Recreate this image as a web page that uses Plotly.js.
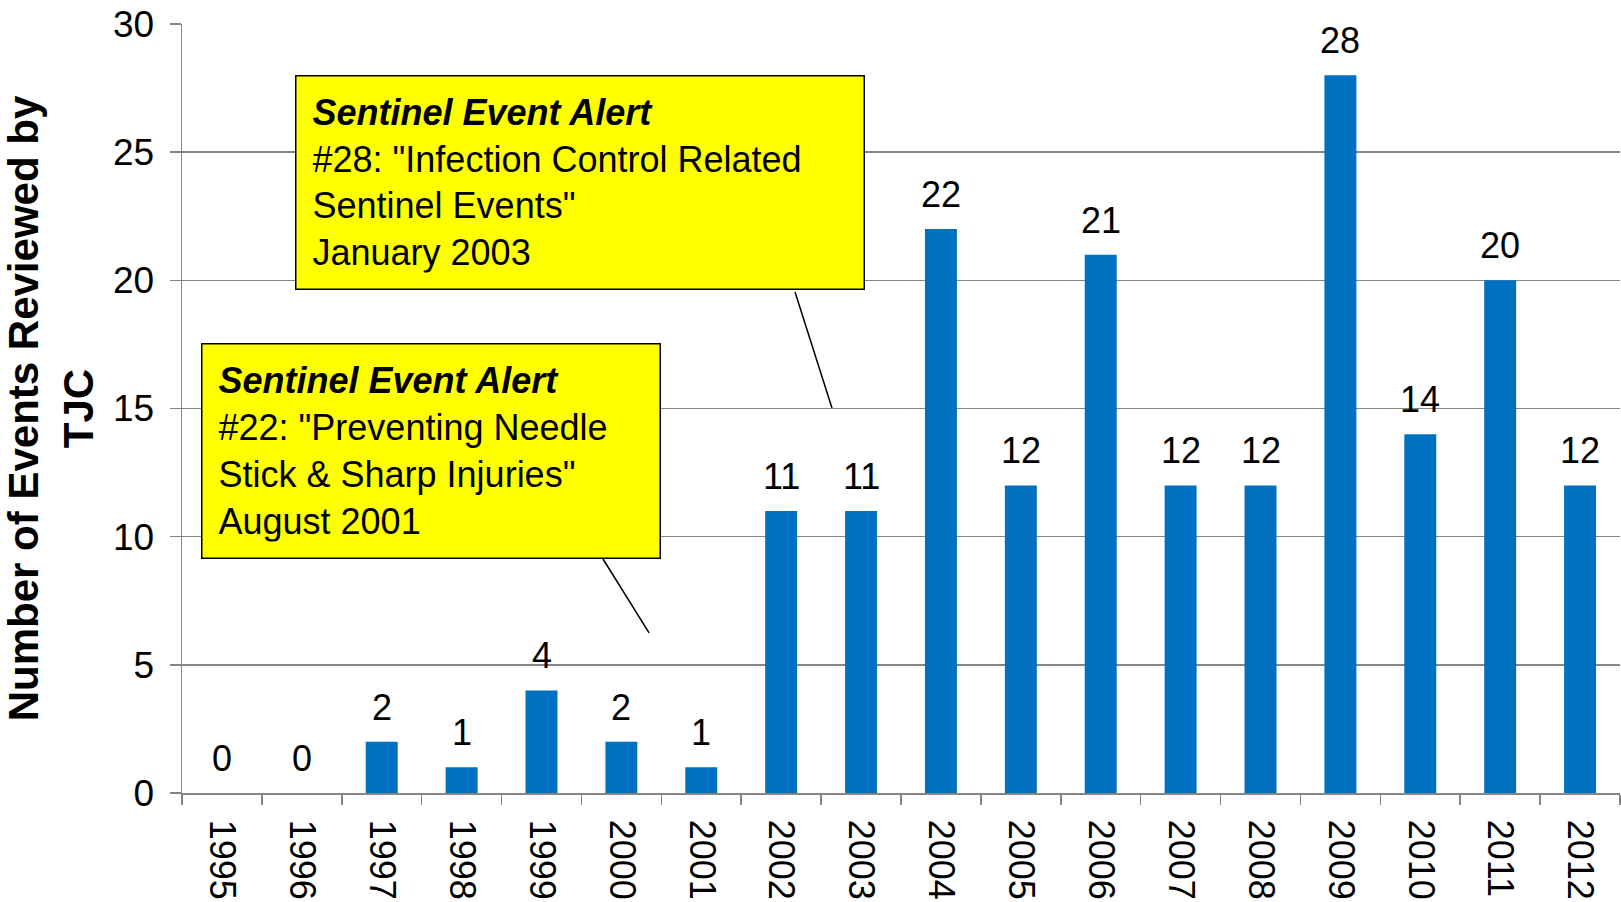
<!DOCTYPE html>
<html>
<head>
<meta charset="utf-8">
<script src="https://cdn.plot.ly/plotly-3.0.1.min.js"></script>
<style>html,body{margin:0;padding:0;background:#fff;}#chart{width:1621px;height:902px;}</style>
</head>
<body>
<div id="chart"></div>
<script>
var years = ['1995','1996','1997','1998','1999','2000','2001','2002','2003','2004','2005','2006','2007','2008','2009','2010','2011','2012'];
var events = [0,0,2,1,4,2,1,11,11,22,12,21,12,12,28,14,20,12];
var yTickVals = [0,5,10,15,20,25,30];
var alert1Text = '<b><i>Sentinel Event Alert</i></b><br>#22: "Preventing Needle<br>Stick &amp; Sharp Injuries"<br>August 2001';
var alert2Text = '<b><i>Sentinel Event Alert</i></b><br>#28: "Infection Control Related<br>Sentinel Events"<br>January 2003';

var FONT = 'Arial, "Liberation Sans", sans-serif';
var axisGray = '#868686';

var trace = {
  type: 'bar',
  x: years,
  y: events,
  width: 0.4,
  marker: {color: '#0070C0', line: {width: 0}},
  hoverinfo: 'x+y'
};

var labelAnns = years.map(function (yr, i) {
  return {
    x: i, y: events[i], xref: 'x', yref: 'y',
    text: String(events[i]), showarrow: false,
    yanchor: 'bottom', yshift: 12,
    font: {family: FONT, size: 36, color: '#000'}
  };
});

var boxAnns = [
  {
    xref: 'paper', yref: 'paper', x: 0.0129, y: 0.5852,
    xanchor: 'left', yanchor: 'top',
    text: alert1Text, showarrow: false, align: 'left', valign: 'middle',
    width: 425, height: 181, borderpad: 16,
    bgcolor: '#FFFF00', bordercolor: '#000', borderwidth: 1.5,
    font: {family: FONT, size: 36, color: '#000'}
  },
  {
    xref: 'paper', yref: 'paper', x: 0.0786, y: 0.9337,
    xanchor: 'left', yanchor: 'top',
    text: alert2Text, showarrow: false, align: 'left', valign: 'middle',
    width: 535, height: 180, borderpad: 16,
    bgcolor: '#FFFF00', bordercolor: '#000', borderwidth: 1.5,
    font: {family: FONT, size: 36, color: '#000'}
  }
];

var layout = {
  width: 1621, height: 902,
  margin: {l: 182, r: 1, t: 24, b: 109},
  paper_bgcolor: '#fff', plot_bgcolor: '#fff',
  showlegend: false,
  font: {family: FONT, color: '#000'},
  xaxis: {
    type: 'category',
    categoryorder: 'array', categoryarray: years,
    range: [-0.5, years.length - 0.5],
    tickangle: 90,
    tickfont: {family: FONT, size: 36, color: '#000'},
    ticks: 'outside', tickson: 'boundaries', ticklen: 10, tickcolor: axisGray, tickwidth: 1.5,
    showline: true, linecolor: axisGray, linewidth: 1.5,
    showgrid: false, zeroline: false,
    ticklabelstandoff: 18,
    automargin: false
  },
  yaxis: {
    range: [0, 30],
    tickvals: yTickVals,
    tickfont: {family: FONT, size: 37, color: '#000'},
    ticks: 'outside', ticklen: 11, tickcolor: axisGray, tickwidth: 1.5,
    showline: true, linecolor: axisGray, linewidth: 1.5,
    showgrid: true, gridcolor: axisGray, gridwidth: 1.5,
    zeroline: false,
    ticklabelstandoff: 8,
    automargin: false,
    title: {
      text: 'Number of Events Reviewed by<br>TJC',
      font: {family: FONT, size: 42, color: '#000', weight: 'bold'},
      standoff: 6
    }
  },
  annotations: labelAnns.concat(boxAnns),
  shapes: [
    {type: 'line', xref: 'paper', yref: 'paper', x0: 0.4263, y0: 0.6515, x1: 0.4520, y1: 0.5007, line: {color: '#000', width: 1.5}},
    {type: 'line', xref: 'paper', yref: 'paper', x0: 0.2928, y0: 0.3043, x1: 0.3248, y1: 0.2081, line: {color: '#000', width: 1.5}}
  ]
};

Plotly.newPlot('chart', [trace], layout, {displayModeBar: false, staticPlot: true});
</script>
</body>
</html>
